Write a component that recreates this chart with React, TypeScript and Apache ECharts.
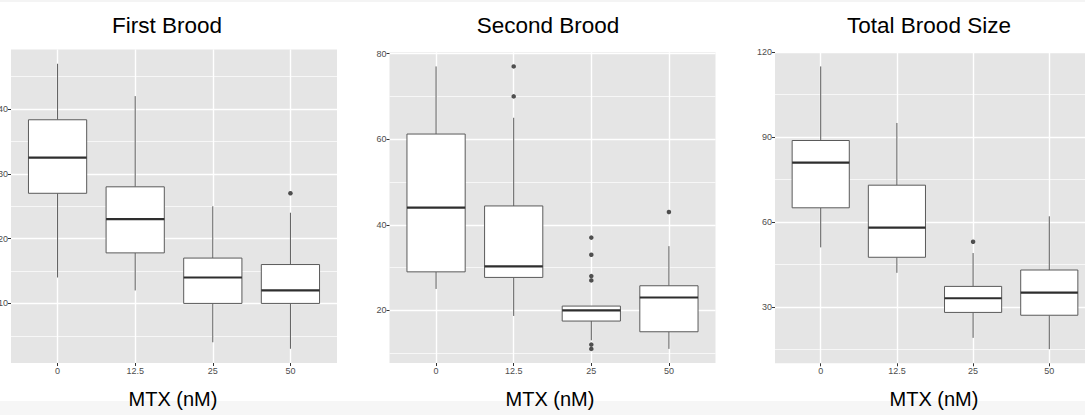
import React, { useEffect, useRef } from "react";
import * as echarts from "echarts";

// ---- data ----
const categories = ["0", "12.5", "25", "50"];

// [xIndex, lowerWhisker, Q1, median, Q3, upperWhisker]
const firstBox = [
  [0, 14, 27, 32.5, 38.35, 47],
  [1, 12, 17.8, 23, 28, 42],
  [2, 4, 10, 14, 17, 25],
  [3, 3, 10, 12, 16, 24],
];
const firstOutliers = [[3, 27]];

const secondBox = [
  [0, 25, 29, 44, 61.2, 77],
  [1, 18.7, 27.7, 30.3, 44.4, 65],
  [2, 13, 17.5, 20, 21, 21],
  [3, 11, 15, 23, 25.75, 35],
];
const secondOutliers = [
  [1, 77], [1, 70],
  [2, 37], [2, 33], [2, 28], [2, 27], [2, 12], [2, 11],
  [3, 43],
];

const totalBox = [
  [0, 51, 65, 81, 88.8, 115],
  [1, 42, 47.5, 58, 73, 95],
  [2, 19, 28, 33, 37.2, 49],
  [3, 15, 27, 35, 43, 62],
];
const totalOutliers = [[2, 53]];

const titles = ["First Brood", "Second Brood", "Total Brood Size"];
const xAxisTitle = "MTX (nM)";

const yRanges = [
  [0.8, 49.2],
  [7.7, 80.3],
  [10, 120],
];
const yMajor = [
  [10, 20, 30, 40],
  [20, 40, 60, 80],
  [30, 60, 90, 120],
];
const yMinor = [
  [5, 15, 25, 35, 45],
  [10, 30, 50, 70],
  [15, 45, 75, 105],
];
const yStep = [10, 20, 30];

// ---- layout / style ----
const FONT = "'Liberation Sans', Arial, Helvetica, sans-serif";
const PANEL_BG = "#e5e5e5";
const BOX_WIDTH = 0.75;
const grids = [
  { left: 11, top: 49.5, width: 326, height: 313.5 },
  { left: 389.5, top: 52.3, width: 326, height: 310.7 },
  { left: 775, top: 52.3, width: 320, height: 311 },
];
const titleX = [167, 548, 929];
const axisTitleX = [173, 550, 934];

const renderBox = (params: any, api: any) => {
  const x = api.value(0);
  const lo = api.value(1);
  const q1 = api.value(2);
  const med = api.value(3);
  const q3 = api.value(4);
  const hi = api.value(5);
  const pLo = api.coord([x, lo]);
  const pQ1 = api.coord([x, q1]);
  const pMed = api.coord([x, med]);
  const pQ3 = api.coord([x, q3]);
  const pHi = api.coord([x, hi]);
  const hw = api.size([BOX_WIDTH, 0], [x, med])[0] / 2;
  const cx = pMed[0];
  const edge = "#5a5a5a";
  return {
    type: "group",
    children: [
      {
        type: "line",
        shape: { x1: cx, y1: pHi[1], x2: cx, y2: pQ3[1] },
        style: { stroke: edge, lineWidth: 1 },
      },
      {
        type: "line",
        shape: { x1: cx, y1: pQ1[1], x2: cx, y2: pLo[1] },
        style: { stroke: edge, lineWidth: 1 },
      },
      {
        type: "rect",
        shape: { x: cx - hw, y: pQ3[1], width: 2 * hw, height: pQ1[1] - pQ3[1] },
        style: { fill: "#ffffff", stroke: edge, lineWidth: 1 },
      },
      {
        type: "line",
        shape: { x1: cx - hw, y1: pMed[1], x2: cx + hw, y2: pMed[1] },
        style: { stroke: "#2e2e2e", lineWidth: 2.2 },
      },
    ],
  };
};

export default function App() {
  const ref = useRef<HTMLDivElement>(null);

  useEffect(() => {
    if (!ref.current) return;
    const chart = echarts.init(ref.current, undefined, { renderer: "svg" });

    const boxes = [firstBox, secondBox, totalBox];
    const outliers = [firstOutliers, secondOutliers, totalOutliers];

    const gridOpt = grids.map((g) => ({
      ...g,
      show: true,
      backgroundColor: PANEL_BG,
      borderWidth: 0,
      containLabel: false,
      outerBoundsMode: "none",
    }));

    const isInt = (v: number) => Math.abs(v - Math.round(v)) < 1e-6;

    const xAxes = grids.map((_, i) => ({
      type: "value",
      gridIndex: i,
      min: -0.6,
      max: 3.6,
      minInterval: 1,
      maxInterval: 1,
      position: "bottom",
      axisLine: { show: false, onZero: false },
      axisTick: {
        show: true,
        length: 3,
        lineStyle: { color: "#333333", width: 1 },
        customValues: [0, 1, 2, 3],
      },
      axisLabel: {
        customValues: [0, 1, 2, 3],
        formatter: (v: number) => (isInt(v) ? categories[Math.round(v)] ?? "" : ""),
        fontSize: 9,
        color: "#4d4d4d",
        fontFamily: FONT,
        margin: 3,
      },
      splitLine: { show: true, lineStyle: { color: "#ffffff", width: 1.4 } },
    }));

    const yAxes: any[] = [];
    grids.forEach((_, i) => {
      yAxes.push({
        type: "value",
        gridIndex: i,
        min: yRanges[i][0],
        max: yRanges[i][1],
        minInterval: yStep[i],
        maxInterval: yStep[i],
        position: "left",
        axisLine: { show: false, onZero: false },
        axisTick: {
          show: true,
          length: 3,
          lineStyle: { color: "#333333", width: 1 },
          customValues: yMajor[i],
        },
        axisLabel: {
          customValues: yMajor[i],
          fontSize: 9,
          color: "#4d4d4d",
          fontFamily: FONT,
          margin: 3,
        },
        splitLine: { show: true, lineStyle: { color: "#ffffff", width: 1.4 } },
        z: 1,
      });
      yAxes.push({
        type: "value",
        gridIndex: i,
        min: yRanges[i][0],
        max: yRanges[i][1],
        position: "left",
        axisLine: { show: false, onZero: false },
        axisTick: { show: false, customValues: yMinor[i] },
        axisLabel: { show: false, customValues: yMinor[i] },
        splitLine: { show: true, lineStyle: { color: "#fbfbfb", width: 0.8 } },
        z: 0,
      });
    });

    const series: any[] = [];
    grids.forEach((_, i) => {
      series.push({
        type: "custom",
        xAxisIndex: i,
        yAxisIndex: 2 * i,
        renderItem: renderBox,
        encode: { x: 0, y: [1, 2, 3, 4, 5] },
        data: boxes[i],
        z: 3,
      });
      series.push({
        type: "scatter",
        xAxisIndex: i,
        yAxisIndex: 2 * i,
        data: outliers[i],
        symbol: "circle",
        symbolSize: 4.5,
        itemStyle: { color: "#262626" },
        z: 4,
      });
    });

    const graphics: any[] = [
      {
        type: "rect",
        shape: { x: 0, y: 401, width: 1085, height: 14 },
        style: { fill: "#f6f6f6" },
        z: -10,
        silent: true,
      },
      {
        type: "rect",
        shape: { x: 0, y: 0, width: 1085, height: 2 },
        style: { fill: "#f4f4f4" },
        z: -10,
        silent: true,
      },
    ];
    titles.forEach((t, i) => {
      graphics.push({
        type: "text",
        x: titleX[i],
        y: 25,
        style: {
          text: t,
          fontSize: 22.5,
          fontFamily: FONT,
          fill: "#000000",
          align: "center",
          verticalAlign: "middle",
        },
        z: 10,
      });
      graphics.push({
        type: "text",
        x: axisTitleX[i],
        y: 399,
        style: {
          text: xAxisTitle,
          fontSize: 20,
          fontFamily: FONT,
          fill: "#000000",
          align: "center",
          verticalAlign: "middle",
        },
        z: 10,
      });
    });

    chart.setOption({
      animation: false,
      backgroundColor: "#ffffff",
      grid: gridOpt,
      xAxis: xAxes,
      yAxis: yAxes,
      series,
      graphic: graphics,
    });

    return () => {
      chart.dispose();
    };
  }, []);

  return (
    <div
      ref={ref}
      style={{ position: "fixed", left: 0, top: 0, width: 1085, height: 415 }}
    />
  );
}
